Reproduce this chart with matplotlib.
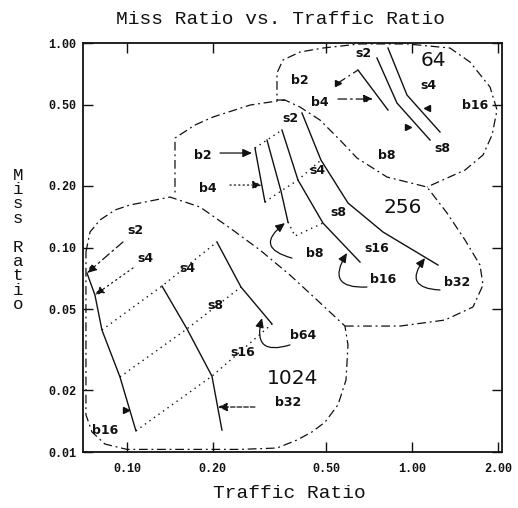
import matplotlib
matplotlib.use("Agg")
import matplotlib.pyplot as plt
from matplotlib.ticker import FixedLocator, NullLocator

# ---- cache size 1024: one solid line per block size (points = sub-block sizes)
c1024_b16_x = [0.0724, 0.0772, 0.0817, 0.0945, 0.1075]
c1024_b16_y = [0.0750, 0.0586, 0.0395, 0.0233, 0.0127]
c1024_b32_x = [0.1327, 0.1624, 0.1987, 0.2154]
c1024_b32_y = [0.0648, 0.0400, 0.0235, 0.0128]
c1024_b64_x = [0.2069, 0.2512, 0.3227]
c1024_b64_y = [0.1064, 0.0641, 0.0423]
# index of the s4 / s8 / s16 point on the b16, b32, b64 lines
c1024_s_idx = [(2, 0, 0), (3, 1, 1), (4, 2, 2)]

# ---- cache size 256
c256_b2_x = [0.2812, 0.3049]
c256_b2_y = [0.3066, 0.1669]
c256_b8_x = [0.3099, 0.3470, 0.3672]
c256_b8_y = [0.3354, 0.1889, 0.1332]
c256_b16_x = [0.3498, 0.3981, 0.4872, 0.6571]
c256_b16_y = [0.3755, 0.2138, 0.1317, 0.0849]
c256_b32_x = [0.4112, 0.4793, 0.5963, 0.7910, 1.234]
c256_b32_y = [0.4546, 0.2678, 0.1651, 0.1191, 0.0821]
c256_s8_mid = (0.3886, 0.1138)

# ---- cache size 64
c64_b4_x = [0.6465, 0.8237]
c64_b4_y = [0.7378, 0.4704]
c64_b8_x = [0.7536, 0.8858, 1.157]
c64_b8_y = [0.8445, 0.5087, 0.3354]
c64_b16_x = [0.8237, 0.9604, 1.254]
c64_b16_y = [0.9453, 0.5568, 0.3671]

# ---- region outlines
r1024_x = [0.0718, 0.0742, 0.0804, 0.0908, 0.1024, 0.1416, 0.1804, 0.2298, 0.2929,
           0.3731, 0.4642, 0.5819, 0.5963, 0.5868, 0.5499, 0.4952, 0.4457, 0.3949,
           0.3360, 0.2491, 0.100, 0.0837, 0.0754, 0.0718, 0.0718, 0.0718]
r1024_y = [0.0951, 0.1191, 0.1363, 0.1526, 0.1614, 0.1765, 0.1578, 0.1246, 0.0972,
           0.0734, 0.0554, 0.0413, 0.0334, 0.0225, 0.0170, 0.0140, 0.01253, 0.01145,
           0.01046, 0.0103, 0.0103, 0.01094, 0.01253, 0.0152, 0.0554, 0.0951]
r256_x = [0.5819, 0.9077, 1.305, 1.637, 1.775, 1.732, 1.535, 1.327, 1.1289, 0.8171,
          0.6412, 0.5589, 0.4755, 0.4046, 0.3583, 0.3360, 0.2702, 0.2003, 0.1732,
          0.1474, 0.1474]
r256_y = [0.0413, 0.0413, 0.0442, 0.0512, 0.0656, 0.0821, 0.1088, 0.1475, 0.1976,
          0.2212, 0.2740, 0.3354, 0.4202, 0.4864, 0.5264, 0.5205, 0.4973, 0.4346,
          0.3972, 0.3430, 0.1847]
r64_x = [0.3583, 0.3360, 0.3360, 0.3526, 0.4046, 0.4872, 0.6571, 0.9604, 1.359, 1.598,
         1.878, 1.988, 1.909, 1.775, 1.535, 1.1289]
r64_y = [0.5264, 0.5264, 0.7135, 0.8259, 0.9036, 0.9453, 0.99, 0.99, 0.9453, 0.8075,
         0.6094, 0.4704, 0.3549, 0.2834, 0.2393, 0.1976]

x_ticks = [0.10, 0.20, 0.50, 1.00, 2.00]
x_tick_labels = ["0.10", "0.20", "0.50", "1.00", "2.00"]
y_ticks = [0.01, 0.02, 0.05, 0.10, 0.20, 0.50, 1.00]
y_tick_labels = ["0.01", "0.02", "0.05", "0.10", "0.20", "0.50", "1.00"]

MONO = "Liberation Mono"
INK = "#111111"
DASHDOT = (0, (7, 3, 1.5, 3))


def solid(ax, xs, ys):
    ax.plot(xs, ys, color=INK, lw=1.0, solid_joinstyle="miter")


def dotted(ax, xs, ys):
    ax.plot(xs, ys, color=INK, lw=1.0, linestyle=(0, (1, 3)))


def arrow(ax, tail, tip, ls="-", rad=0.0):
    ax.annotate("", xy=tip, xytext=tail,
                arrowprops=dict(arrowstyle="-|>,head_length=0.55,head_width=0.25",
                                color=INK, lw=0.9, ls=ls, shrinkA=0, shrinkB=0,
                                connectionstyle=f"arc3,rad={rad}"))


def small(ax, x, y, s):
    ax.text(x, y, s, ha="center", va="center", fontsize=9, fontweight="bold",
            family="DejaVu Sans", color=INK)


def big(ax, x, y, s):
    ax.text(x, y, s, ha="center", va="center", fontsize=14.5, family="DejaVu Sans",
            color=INK)


fig = plt.figure(figsize=(5.18, 5.08), dpi=100)
ax = fig.add_axes([0.1602, 0.1102, 0.8089, 0.8051])
ax.set_xscale("log")
ax.set_yscale("log")
ax.set_xlim(0.0701, 2.069)
ax.set_ylim(0.01, 1.0)

# region outlines
ax.plot(r1024_x, r1024_y, color=INK, lw=0.9, linestyle=DASHDOT)
ax.plot(r256_x, r256_y, color=INK, lw=0.9, linestyle=DASHDOT)
ax.plot(r64_x, r64_y, color=INK, lw=0.9, linestyle=DASHDOT)

# 1024
solid(ax, c1024_b16_x, c1024_b16_y)
solid(ax, c1024_b32_x, c1024_b32_y)
solid(ax, c1024_b64_x, c1024_b64_y)
for i16, i32, i64 in c1024_s_idx:
    dotted(ax, [c1024_b16_x[i16], c1024_b32_x[i32], c1024_b64_x[i64]],
           [c1024_b16_y[i16], c1024_b32_y[i32], c1024_b64_y[i64]])
arrow(ax, (0.0968, 0.1064), (c1024_b16_x[0], c1024_b16_y[0]), ls=DASHDOT)
arrow(ax, (0.1050, 0.0794), (c1024_b16_x[1], c1024_b16_y[1]), ls=(0, (1, 3)))
arrow(ax, (0.2812, 0.0166), (0.2086, 0.0166), ls="--")
arrow(ax, (0.3731, 0.0334), (0.2977, 0.0452), rad=-0.9)
ax.plot([0.0992], [0.01604], marker=">", color=INK, ms=5)
small(ax, 0.1067, 0.1218, "s2")
small(ax, 0.1157, 0.0888, "s4")
small(ax, 0.1624, 0.0794, "s4")
small(ax, 0.2036, 0.0523, "s8")
small(ax, 0.2553, 0.0308, "s16")
small(ax, 0.4146, 0.0373, "b64")
small(ax, 0.3672, 0.01756, "b32")
small(ax, 0.0837, 0.0128, "b16")
big(ax, 0.3825, 0.0230, "1024")

# 256
solid(ax, c256_b2_x, c256_b2_y)
solid(ax, c256_b8_x, c256_b8_y)
solid(ax, c256_b16_x, c256_b16_y)
solid(ax, c256_b32_x, c256_b32_y)
dotted(ax, [c256_b2_x[0], c256_b8_x[0], c256_b16_x[0]],
       [c256_b2_y[0], c256_b8_y[0], c256_b16_y[0]])
dotted(ax, [c256_b2_x[1], c256_b8_x[1], c256_b16_x[1], c256_b32_x[1]],
       [c256_b2_y[1], c256_b8_y[1], c256_b16_y[1], c256_b32_y[1]])
dotted(ax, [c256_b8_x[2], c256_s8_mid[0], c256_b16_x[2]],
       [c256_b8_y[2], c256_s8_mid[1], c256_b16_y[2]])
arrow(ax, (0.2120, 0.2898), (0.2746, 0.2898))
arrow(ax, (0.2298, 0.2021), (0.2977, 0.2021), ls=(0, (1, 2.5)))
arrow(ax, (0.3793, 0.0888), (0.3583, 0.1317), rad=-1.0)
arrow(ax, (0.6952, 0.0641), (0.5915, 0.0940), rad=-0.95)
arrow(ax, (1.254, 0.0620), (1.111, 0.0888), rad=-0.95)
small(ax, 0.1848, 0.2834, "b2")
small(ax, 0.1924, 0.1954, "b4")
small(ax, 0.3731, 0.4298, "s2")
small(ax, 0.4642, 0.2393, "s4")
small(ax, 0.5499, 0.1491, "s8")
small(ax, 0.7536, 0.0994, "s16")
small(ax, 0.4567, 0.0940, "b8")
small(ax, 0.7910, 0.0694, "b16")
small(ax, 1.438, 0.0671, "b32")
big(ax, 0.9299, 0.1578, "256")

# 64
solid(ax, c64_b4_x, c64_b4_y)
solid(ax, c64_b8_x, c64_b8_y)
solid(ax, c64_b16_x, c64_b16_y)
ax.plot([0.5499, c64_b4_x[0]], [0.6373, c64_b4_y[0]], color=INK, lw=0.9,
        linestyle=DASHDOT)
ax.plot([0.5499], [0.6373], marker=">", color=INK, ms=5)
arrow(ax, (0.5499, 0.5323), (0.7296, 0.5323), ls=DASHDOT)
ax.plot([0.9682], [0.3883], marker=">", color=INK, ms=5)
ax.plot([1.1289], [0.4811], marker="<", color=INK, ms=5)
small(ax, 0.4046, 0.6593, "b2")
small(ax, 0.4755, 0.5145, "b4")
small(ax, 0.6733, 0.8937, "s2")
small(ax, 1.138, 0.6233, "s4")
small(ax, 1.274, 0.3066, "s8")
small(ax, 0.8171, 0.2834, "b8")
small(ax, 1.664, 0.4973, "b16")
big(ax, 1.185, 0.8259, "64")

# axes frame and ticks
for sp in ax.spines.values():
    sp.set_linewidth(1.3)
    sp.set_color(INK)
ax.xaxis.set_major_locator(FixedLocator(x_ticks))
ax.xaxis.set_minor_locator(NullLocator())
ax.yaxis.set_major_locator(FixedLocator(y_ticks))
ax.yaxis.set_minor_locator(NullLocator())
ax.set_xticklabels(x_tick_labels, family=MONO, fontsize=8.5, fontweight="bold")
ax.set_yticklabels(y_tick_labels, family=MONO, fontsize=8.5, fontweight="bold")
ax.tick_params(axis="both", which="major", direction="in", top=True, right=True,
               length=7, width=1.0, colors=INK)
ax.tick_params(axis="x", pad=8)
ax.tick_params(axis="y", pad=5)

fig.text(280 / 518, 1 - 19 / 508, "Miss Ratio vs. Traffic Ratio", ha="center",
         va="center", fontsize=14, family=MONO, color=INK)
fig.text(289 / 518, 1 - 493 / 508, "Traffic Ratio", ha="center", va="center",
         fontsize=14, family=MONO, color=INK)
# y label: letters stacked one under another
fig.text(18 / 518, 1 - 240 / 508, "\n".join("Miss Ratio"), ha="center",
         va="center", ma="center", fontsize=12.5, family=MONO, color=INK,
         linespacing=0.95)

fig.savefig("out.png", dpi=100, facecolor="white")
